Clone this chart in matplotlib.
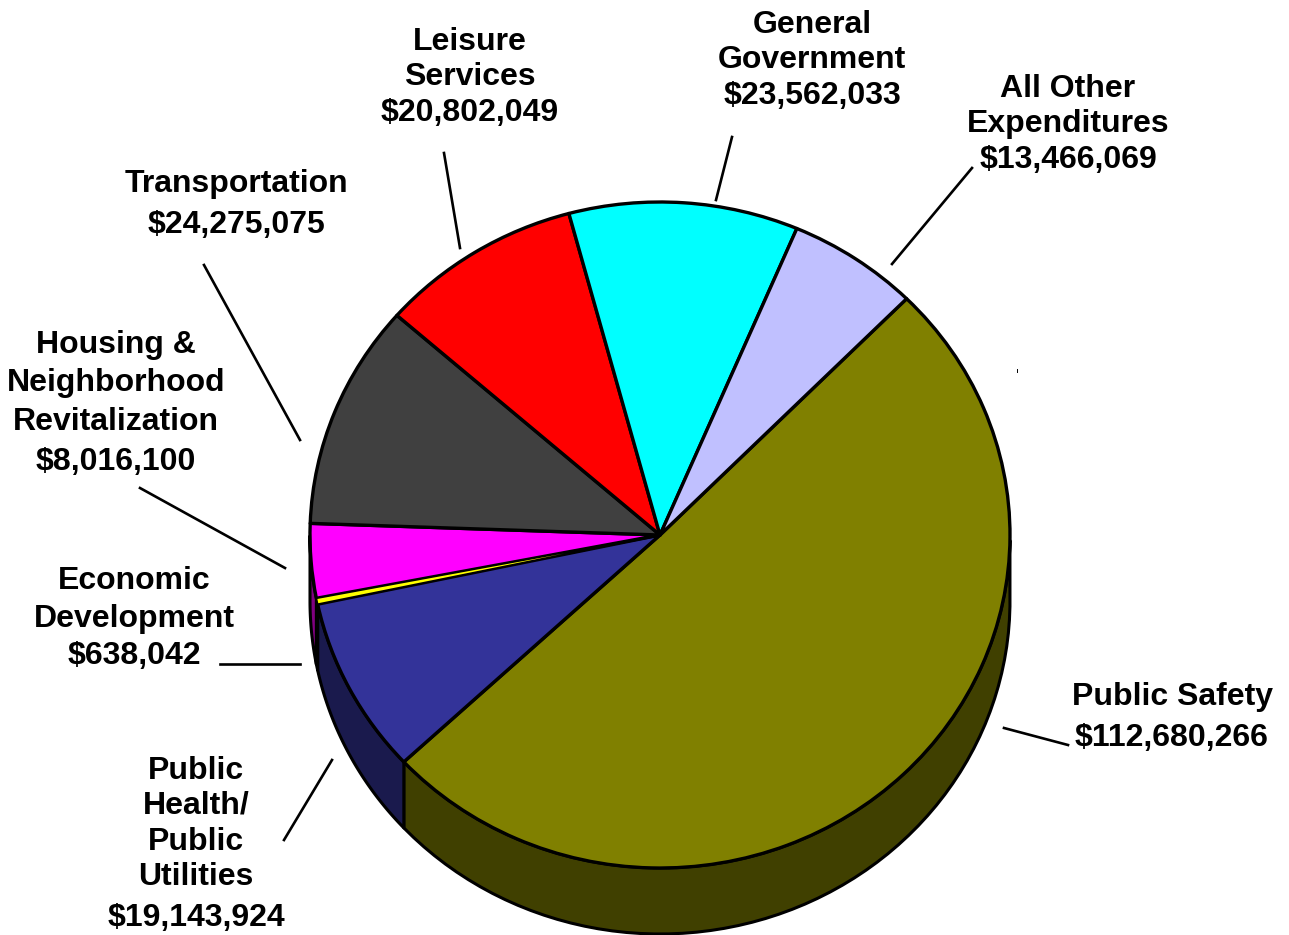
import matplotlib
matplotlib.use("Agg")
import matplotlib.pyplot as plt
import numpy as np

W, H = 1289, 935

## slices, clockwise from the upper right
names = ["Public Safety", "Public Health", "Economic Development", "Housing",
         "Transportation", "Leisure Services", "General Government", "All Other"]
values = [112680266, 19143924, 638042, 8016100, 24275075, 20802049, 23562033, 13466069]
colors = ["#808000", "#333399", "#FFFF00", "#FF00FF", "#404040", "#FF0000", "#00FFFF", "#C0C0FF"]
side_colors = ["#404000", "#1A1A4D", "#808000", "#800080", "#202020", "#800000", "#008080", "#606080"]

labels = [["Public Safety", "$112,680,266"],
          ["Public", "Health/", "Public", "Utilities", "$19,143,924"],
          ["Economic", "Development", "$638,042"],
          ["Housing &", "Neighborhood", "Revitalization", "$8,016,100"],
          ["Transportation", "$24,275,075"],
          ["Leisure", "Services", "$20,802,049"],
          ["General", "Government", "$23,562,033"],
          ["All Other", "Expenditures", "$13,466,069"]]
label_x = [1172, 196, 134, 116, 236, 470, 812, 1068]
label_base = [[705, 746], [779, 814, 850, 885, 926], [589, 627, 664], [353, 391, 430, 470],
              [192, 233], [50, 85, 121], [33, 68, 104], [97, 132, 168]]

leaders = [((1004, 728), (1068, 745)), ((332, 760), (284, 840)), ((220, 664), (300, 664)),
           ((140, 488), (285, 568)), ((204, 265), (300, 440)), ((444, 153), (460, 248)),
           ((732, 137), (716, 200)), ((972, 168), (892, 264))]

cx, cy = 660, 535
rx, ry = 350, 333
depth = 66
start = 45.2

fig = plt.figure(figsize=(W / 100, H / 100), dpi=100)
ax = fig.add_axes([0, 0, 1, 1])

## pixel coords -> figure fraction
def px(x, y):
    return x / W, 1 - y / H

## side wall first, only the front half of the disc shows it
fr = np.array(values) / sum(values)
edges = start - 360 * np.concatenate(([0], np.cumsum(fr)))
for i in range(len(values)):
    hi = min(edges[i] % 360 if edges[i] % 360 > 0 else 360, 360)
    lo = hi - 360 * fr[i]
    t = np.radians(np.linspace(lo, hi, 80))
    t = t[np.sin(t) <= 0.0]
    if len(t) < 2:
        continue
    xs = np.cos(t)
    ys = np.sin(t)
    d = depth / ry
    ax.fill(np.r_[xs, xs[::-1]], np.r_[ys, ys[::-1] - d], facecolor=side_colors[i],
            edgecolor="black", linewidth=2.2, zorder=1, joinstyle="round")

wedges, _ = ax.pie(values, colors=colors, startangle=start, counterclock=False,
                   wedgeprops=dict(edgecolor="black", linewidth=2.4, joinstyle="round"))
for w in wedges:
    w.set_zorder(2)
## the sliver would vanish under its outline otherwise
wedges[2].set_zorder(3)
wedges[2].set_linewidth(1.2)

ax.set_aspect("auto")
ax.set_xlim(-cx / rx, (W - cx) / rx)
ax.set_ylim(-(H - cy) / ry, cy / ry)
ax.axis("off")

for (a, b) in leaders:
    p, q = px(*a), px(*b)
    fig.add_artist(plt.Line2D([p[0], q[0]], [p[1], q[1]], color="black", linewidth=1.9,
                              transform=fig.transFigure))

## stray speck right of the pie
p, q = px(1017, 369), px(1017, 372)
fig.add_artist(plt.Line2D([p[0], q[0]], [p[1], q[1]], color="black", linewidth=0.7,
                          transform=fig.transFigure))

for lines, x0, bases in zip(labels, label_x, label_base):
    for line, b in zip(lines, bases):
        x, y = px(x0, b)
        fig.text(x, y, line, ha="center", va="baseline", family="Liberation Sans", weight="bold",
                 fontsize=23, color="black")

fig.savefig("out.png", dpi=100, facecolor="white")
